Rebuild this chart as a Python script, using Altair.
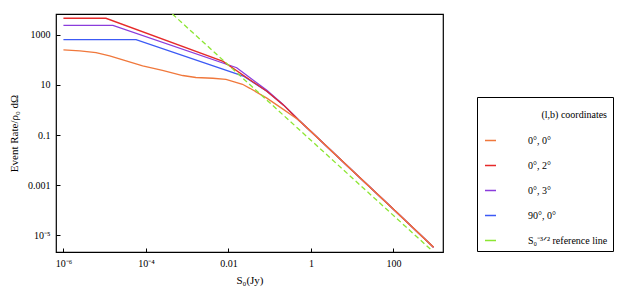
import altair as alt
import pandas as pd

# Series names (legend order)
names = ["0°, 0°", "0°, 2°", "0°, 3°", "90°, 0°", "S₀⁻³ᐟ² reference line"]
colors = ["#F0783C", "#E62A2A", "#8A3CDC", "#3C5AF5", "#8CE632"]

# Values, as log10(S0 / Jy) and log10(rate)
tail_lx = [-0.3, 0.0, 1.0, 2.0, 2.97]
tail_ly = [-0.40, -0.86, -2.41, -3.96, -5.47]

orange_lx = [-6.0, -5.6, -5.21, -4.88, -4.56, -4.08, -3.6, -3.11, -2.79, -2.38, -2.06, -1.86, -1.66,
             -1.48, -1.07, -0.67] + tail_lx
orange_ly = [2.39, 2.35, 2.28, 2.15, 1.99, 1.75, 1.57, 1.37, 1.29, 1.26, 1.22, 1.12, 1.02,
             0.86, 0.47, 0.02] + tail_ly

red_lx = [-6.0, -4.97, -2.13, -1.07, -0.67] + tail_lx
red_ly = [3.65, 3.65, 1.93, 0.74, 0.20] + tail_ly

purple_lx = [-6.0, -4.8, -1.80, -1.07, -0.67] + tail_lx
purple_ly = [3.37, 3.37, 1.68, 0.78, 0.21] + tail_ly

blue_lx = [-6.0, -4.24, -1.64, -1.07, -0.67] + tail_lx
blue_ly = [2.80, 2.80, 1.35, 0.74, 0.20] + tail_ly

ref_lx = [-3.36, 2.93]
ref_ly = [3.82, -5.60]

curve_rows = []
for z, (name, lxs, lys) in enumerate([
    (names[3], blue_lx, blue_ly),
    (names[2], purple_lx, purple_ly),
    (names[1], red_lx, red_ly),
    (names[0], orange_lx, orange_ly),
]):
    for i, (a, b) in enumerate(zip(lxs, lys)):
        curve_rows.append({"series": name, "S": 10 ** a, "rate": 10 ** b, "i": i, "z": z})
curves_df = pd.DataFrame(curve_rows)

ref_df = pd.DataFrame({"series": [names[4]] * len(ref_lx),
                       "S": [10 ** a for a in ref_lx],
                       "rate": [10 ** b for b in ref_ly],
                       "i": list(range(len(ref_lx)))})

font = "Liberation Serif"

x_scale = alt.Scale(type="log", domain=[10 ** -6.18, 10 ** 3.2], nice=False)
y_scale = alt.Scale(type="log", domain=[10 ** -5.66, 10 ** 3.82], nice=False)

x_enc = alt.X("S:Q", scale=x_scale,
              axis=alt.Axis(title="S₀(Jy)", values=[1e-6, 1e-4, 1e-2, 1, 100],
                            labelExpr="datum.value < 1e-5 ? '10⁻⁶' : datum.value < 1e-3 ? '10⁻⁴' : format(datum.value, '~g')",
                            grid=False, domain=False, offset=-4, tickSize=4, labelPadding=6,
                            titlePadding=6, labelFont=font, titleFont=font, labelFontSize=10,
                            titleFontSize=11, titleFontWeight="normal", tickColor="black",
                            labelColor="black", titleColor="black"))
y_enc = alt.Y("rate:Q", scale=y_scale,
              axis=alt.Axis(title="Event Rate/ρ₀ dΩ", values=[1e-5, 1e-3, 0.1, 10, 1000],
                            labelExpr="datum.value < 1e-4 ? '10⁻⁵' : format(datum.value, '~g')",
                            grid=False, domain=False, offset=-4, tickSize=4, labelPadding=6,
                            titlePadding=8, labelFont=font, titleFont=font, labelFontSize=10,
                            titleFontSize=11, titleFontWeight="normal", tickColor="black",
                            labelColor="black", titleColor="black"))
color_enc = alt.Color("series:N", scale=alt.Scale(domain=names, range=colors),
                      legend=alt.Legend(title=["", "(l,b) coordinates"], orient="none",
                                        legendX=421, legendY=83,
                                        strokeColor="black", padding=5, symbolType="stroke",
                                        symbolSize=121, symbolOffset=2, symbolDash=[1, 0],
                                        symbolStrokeWidth=1.5, labelFont=font, labelFontSize=10,
                                        titleFont=font, titleFontSize=10, titleFontWeight="normal",
                                        titleLineHeight=8, rowPadding=13, labelOffset=31,
                                        titleAnchor="end", titlePadding=14,
                                        labelColor="black", titleColor="black", labelLimit=200))

curves = alt.Chart(curves_df).mark_line(strokeWidth=1.3, clip=True).encode(
    x=x_enc, y=y_enc, color=color_enc, order=alt.Order("i:Q"), detail="z:N",
)
ref_line = alt.Chart(ref_df).mark_line(strokeWidth=1.3, clip=True, strokeDash=[5, 3]).encode(
    x=x_enc, y=y_enc, color=color_enc, order=alt.Order("i:Q"),
)

chart = alt.layer(curves, ref_line).properties(
    width=387, height=238,
    autosize=alt.AutoSizeParams(type="none"),
    padding={"left": 48, "top": 6, "right": 179, "bottom": 41},
).configure_view(stroke="black", strokeWidth=1.2)

chart.save("out.html", embed_options={"renderer": "svg", "actions": False})
